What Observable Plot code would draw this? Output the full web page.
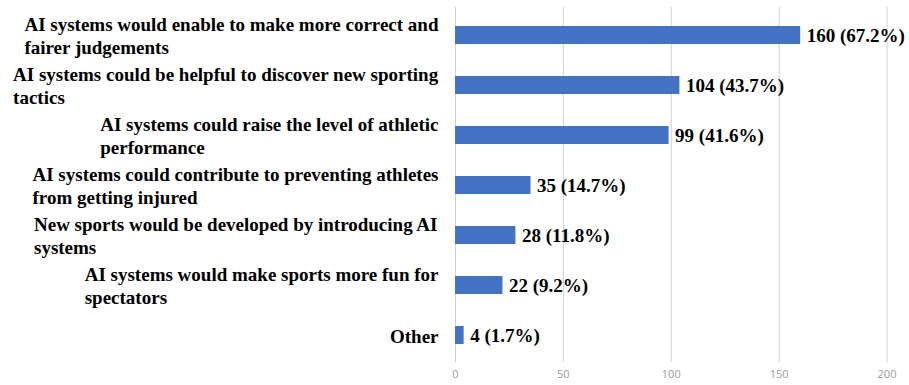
<!DOCTYPE html>
<html>
<head>
<meta charset="utf-8">
<script src="https://cdn.jsdelivr.net/npm/d3@7"></script>
<script src="https://cdn.jsdelivr.net/npm/@observablehq/plot@0.6"></script>
<style>
  html, body { margin: 0; padding: 0; background: #fff; }
  #chart svg { display: block; }
</style>
</head>
<body>
<div id="chart"></div>
<script>
const categories = [
  "AI systems would enable to make more correct and\nfairer judgements",
  "AI systems could be helpful to discover new sporting\ntactics",
  "AI systems could raise the level of athletic\nperformance",
  "AI systems could contribute to preventing athletes\nfrom getting injured",
  "New sports would be developed by introducing AI\nsystems",
  "AI systems would make sports more fun for\nspectators",
  "Other"
];
const counts = [160, 104, 99, 35, 28, 22, 4];
const percents = [67.2, 43.7, 41.6, 14.7, 11.8, 9.2, 1.7];
const xTicks = [0, 50, 100, 150, 200];

const data = categories.map((c, i) => ({cat: c, n: counts[i], pct: percents[i]}));

const FS = 19;
const serif = "'Liberation Serif', 'Times New Roman', serif";
const ctx = document.createElement("canvas").getContext("2d");
ctx.font = `bold ${FS}px 'Liberation Serif'`;
const blockWidth = s => Math.max(...s.split("\n").map(l => ctx.measureText(l).width));

const labelMarks = data.map(d => Plot.text([d], {
  x: () => 0,
  y: "cat",
  text: "cat",
  textAnchor: "start",
  lineAnchor: "middle",
  lineHeight: 1.2,
  dx: -17 - blockWidth(d.cat),
  fontFamily: serif,
  fontWeight: "bold",
  fontSize: FS,
  fill: "#000"
}));

const chart = Plot.plot({
  width: 909,
  height: 385,
  marginLeft: 455,
  marginRight: 22.5,
  marginTop: 7,
  marginBottom: 23,
  x: {domain: [0, 200], ticks: xTicks},
  y: {domain: categories, paddingInner: 0.645, paddingOuter: 0.3225, axis: null},
  style: {background: "#fff"},
  marks: [
    Plot.ruleX(xTicks, {stroke: "#d0d0d0", strokeWidth: 1}),
    Plot.axisX({
      ticks: xTicks, tickSize: 0, tickPadding: 8,
      fontFamily: "'Open Sans', sans-serif", fontSize: 11, color: "#9a9a9a", label: null
    }),
    Plot.barX(data, {x: "n", y: "cat", fill: "#4472C4"}),
    Plot.text(data, {
      x: "n", y: "cat",
      text: d => `${d.n} (${d.pct.toFixed(1)}%)`,
      textAnchor: "start", dx: 6,
      fontFamily: serif, fontWeight: "bold", fontSize: FS, fill: "#000"
    }),
    ...labelMarks
  ]
});
document.getElementById("chart").append(chart);
</script>
</body>
</html>
